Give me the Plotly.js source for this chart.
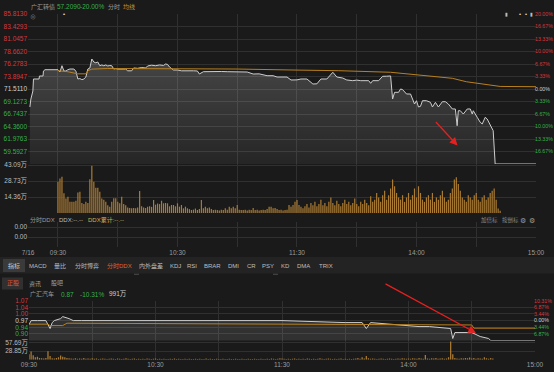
<!DOCTYPE html>
<html><head><meta charset="utf-8">
<script src="https://cdn.plot.ly/plotly-3.0.1.min.js"></script>
<style>html,body{margin:0;padding:0;background:#1a1a1a;}#chart{width:554px;height:372px;}</style>
</head><body><div id="chart"></div>
<script>
// ===== DATA =====
// 广汇转债 intraday (minutes from 09:30, trading time; negatives = call auction)
const mainTimes = [-14.1,-13.6,-12.6,-12.3,-9.5,-9.3,-7.5,-7.3,-6.5,
 0,1,2,3,4,5,6,8,9,10,11,12,13,14,15,16,17,18,19,20,21,22,23,24,25,26,27,28,29,30,32,34,35,37,38,40,42,44,45,47,49,51,53,54,55,56,58,60,62,65,68,70,71,73,76,79,82,85,88,91,95,98,101,105,108,110,113,115,117,120,122,125,128,130,132,135,138,140,143,145,148,150,152,154,156,157,158,161,163,165,166.5,167,168,169,171,172,173,175,177,178,179,180,181,182,183,185,187,188,189.5,191,193,194.5,196,198,199.5,200.4,201,202,203.5,205.5,207,208,208.5,210.5,212,213,214.5,215.5,217,218.5,219.5,221,240];
const mainPrices = [68.08,69.60,71.13,73.42,73.42,73.99,73.99,74.94,75.19,
 75.19,74.75,75.95,74.94,74.94,75.20,75.32,75.32,74.90,73.42,73.50,73.30,73.42,73.80,75.32,75.50,77.23,76.66,76.50,76.66,75.95,76.10,75.95,76.10,75.90,76.00,75.95,75.32,75.40,75.32,75.25,75.32,74.98,74.98,75.52,75.45,75.60,75.52,75.90,76.05,75.95,76.10,76.00,76.28,76.20,75.70,75.13,75.13,74.98,75.05,74.98,74.95,74.37,74.81,74.85,74.75,74.85,74.81,74.75,74.70,74.75,74.37,74.40,74.05,74.05,73.80,73.85,73.80,73.23,73.25,73.42,73.42,72.46,72.50,73.42,73.42,74.70,73.80,73.60,73.23,73.10,73.20,73.10,73.15,73.10,72.60,73.10,73.10,73.93,73.95,74.05,74.00,69.60,70.88,70.88,71.51,71.40,70.56,70.56,69.60,68.65,69.28,68.08,68.20,69.28,69.28,68.97,68.08,68.97,68.08,69.09,69.09,68.65,67.70,67.70,64.51,67.37,67.37,66.74,67.70,67.70,66.74,67.37,66.11,65.16,64.84,66.11,65.79,64.51,63.56,57.209,57.209,57.209];
const avgTimes  = [0,5,10,14,15,17,25,90,118,141,167,183,198,205,214,222,240];
const avgPrices = [75.00,74.80,74.40,74.40,75.00,75.30,75.42,75.32,75.13,75.00,74.70,74.05,73.55,72.90,72.40,72.00,71.95];
// volume per minute (万)
const volumes = [28,31,32.6,17.7,13,14.5,10,10,10,11, 18.3,19.1,9,8,10,9,30.2,42.5,28.1,22.7,
 22.7,19.1,13,12,10,7,5.7,10,13.2,13.2, 10,8.7,14.7,8,7,5,4.5,4.2,4.5,4.2,
 5,19.8,6,5,4.5,5.7,6,5.5,11.7,7.5, 8.5,8,11,8.7,9,8.7,6,7.2,7.2,6,
 8.7,5.7,7.2,4.2,5.7,4.2,3.5,2.7,3,4, 2.7,3.5,11.7,4.2,5.7,4.2,5,3.5,2.7,3,
 2.7,2.2,3,2.7,4.2,3,5.7,4.2,5.7,4.2, 7.2,3,2.7,2.7,3,2.2,3,2.7,4.5,2.7,
 3,2.2,2.7,3,2.7,3.5,5.7,5.7,4.2,4.5, 3.5,2.7,3,2.2,2.7,3,7.2,5.7,7.2,10,
 11.7,7.2,5.7,4.2,6,8,5,9,7,10, 6,8,12,7,9,6,10,14,9,7,
 11,8,6,9,12,8,10,7,9,13, 8,6,10,8,12,9,7,15,10,12,
 18,14,10,16,20,12,16,22,30,24, 18,14,12,16,10,14,18,12,16,22,
 14,24,18,12,10,14,16,12,18,10, 14,12,16,20,14,10,12,18,22,30,
 32,26,20,14,12,10,16,14,12,16, 18,12,10,14,16,12,14,18,20,22,
 12,4,2];
// 广汇汽车 intraday
const bTimes  = [0,1,4,8,9,10,11,12,15,16,19,21,25,40,60,90,120,150,158,160,162,185,190,200,201,202,210,212,214,218,219,240];
const bPrices = [0.95,0.97,0.97,0.97,0.95,0.93,0.96,0.97,0.98,0.99,0.98,0.97,0.97,0.97,0.97,0.97,0.97,0.96,0.96,0.93,0.96,0.94,0.94,0.93,0.88,0.91,0.91,0.90,0.89,0.88,0.87,0.87];
const bAvgTimes  = [0,9,10,16,18,185,210,211,240];
const bAvgPrices = [0.952,0.952,0.945,0.945,0.957,0.950,0.948,0.932,0.932];
const bVolumes = [18,27,15,8,10,6,5,4,6,28,12,5,4,6,8,14,10,8,6,5,
 4,3,5,3,4,3,6,3,4,3,5,3,4,2,3,4,3,2,3,4,
 3,2,4,3,2,3,5,3,2,3,4,2,3,2,3,2,4,3,2,3,
 4,2,3,2,3,2,2,3,2,4,2,3,2,2,3,2,3,2,2,3,
 2,3,2,2,4,2,3,2,2,3,2,2,3,2,2,3,2,2,3,2,
 2,3,2,2,3,2,2,3,2,2,3,2,2,3,2,4,3,2,3,5,
 4,3,2,3,2,3,4,2,3,2,3,2,4,3,2,3,2,3,5,3,
 2,3,4,3,2,3,2,3,4,2,3,2,3,2,3,4,6,3,8,4,
 12,5,3,4,3,2,3,4,3,2,3,4,3,2,3,4,3,5,4,3,
 4,3,5,4,3,6,4,3,16,4,3,5,4,6,3,4,5,3,4,8,
 60,18,6,4,3,5,4,6,5,7,4,6,3,5,4,3,8,5,3,6,4];
// tick labels
const priceTicks = [85.8130,83.4293,81.0457,78.6620,76.2783,73.8947,71.5110,69.1273,66.7437,64.3600,61.9763,59.5927,57.2090];
const pctLabels  = ['20.00%','16.67%','13.33%','10.00%','6.67%','3.33%','0.00%','3.33%','6.67%','10.00%','13.33%','16.67%',''];
const volTicks = [14.36,28.73,43.09];
const bPriceTicks = [1.07,1.0367,1.0033,0.97,0.9367,0.9033,0.87];
const bPriceLabels = ['1.07','1.04','1.00','0.97','0.94','0.90',''];
const bPctLabels = ['10.31%','6.87%','3.44%','0.00%','3.44%','6.87%',''];
const bVolTicks = [28.85,57.69];
const timeTicks = [0,30,60,90,120,150,180,210,240];
const timeLabels = ['09:30','','10:30','','11:30','','14:00','','15:00'];
const tabs = ['指标','MACD','量比','分时博弈','分时DDX','内外盘差','KDJ','RSI','BRAR','DMI','CR','PSY','KD','DMA','TRIX'];

// ===== STYLE =====
const W=554,H=372;
const px=x=>x/W, py=y=>1-y/H;
const FONT="Arial, 'Liberation Sans', 'Noto Sans CJK SC', sans-serif";
const RED='#d8383e', GREEN='#35b04a', WHITE='#d2d2d2', GRAY='#9c9c9c', GRID='#303030', BG='#1a1a1a', AVG='#b8801f', VOL='#ab7b33';
const colorFor=(i,mid)=> i<mid?RED:(i===mid?WHITE:GREEN);
const span=(t,c)=>t===''?'':`<span style="color:${c}">${t}</span>`;

const tf={size:6.5,family:FONT,color:GRAY};
const rtf={size:5.3,family:FONT,color:GRAY};
const traces=[
 {x:mainTimes,y:mainPrices,xaxis:'x',yaxis:'y',mode:'lines',line:{color:'#cdcdcd',width:1},
  fill:'tozeroy',fillcolor:'rgba(255,255,255,0.12)',
  fillgradient:{type:'vertical',start:57.2,stop:77.3,colorscale:[[0,'rgba(255,255,255,0.05)'],[1,'rgba(255,255,255,0.19)']]},hoverinfo:'skip'},
 {x:avgTimes,y:avgPrices,xaxis:'x',yaxis:'y',mode:'lines',line:{color:AVG,width:1},hoverinfo:'skip'},
 {x:[0],y:[71.511],xaxis:'x',yaxis:'y2',mode:'markers',marker:{opacity:0},hoverinfo:'skip'},
 {x:volumes.map((v,i)=>i),y:volumes,xaxis:'x',yaxis:'y3',type:'bar',marker:{color:VOL,line:{width:0}},width:0.6,hoverinfo:'skip'},
 {x:[0],y:[0.5],xaxis:'x',yaxis:'y4',mode:'markers',marker:{opacity:0},hoverinfo:'skip'},
 {x:bTimes,y:bPrices,xaxis:'x2',yaxis:'y5',mode:'lines',line:{color:'#cdcdcd',width:1},
  fill:'tozeroy',fillcolor:'rgba(255,255,255,0.10)',hoverinfo:'skip'},
 {x:bAvgTimes,y:bAvgPrices,xaxis:'x2',yaxis:'y5',mode:'lines',line:{color:AVG,width:1},hoverinfo:'skip'},
 {x:[0],y:[0.97],xaxis:'x2',yaxis:'y6',mode:'markers',marker:{opacity:0},hoverinfo:'skip'},
 {x:bVolumes.map((v,i)=>i),y:bVolumes,xaxis:'x2',yaxis:'y7',type:'bar',marker:{color:VOL,line:{width:0}},width:0.6,hoverinfo:'skip'}
];

const yCommon={showgrid:true,gridcolor:GRID,gridwidth:1,zeroline:false,showline:false,ticks:'',tickfont:tf,fixedrange:true,tickmode:'array'};
const layout={
 width:W,height:H,margin:{l:0,r:0,t:0,b:0},paper_bgcolor:BG,plot_bgcolor:BG,showlegend:false,
 font:{family:FONT,color:GRAY,size:6.5},bargap:0.3,
 xaxis:{domain:[px(28.1),px(536)],range:[-15,240],anchor:'y4',tickmode:'array',tickvals:[-15].concat(timeTicks),ticktext:['7/16'].concat(timeLabels),
   showgrid:true,gridcolor:GRID,zeroline:false,showline:false,ticks:'',tickfont:tf,fixedrange:true},
 yaxis:Object.assign({},yCommon,{domain:[py(164),py(14)],range:[57.209,85.813],anchor:'x',side:'left',tickvals:priceTicks,
   ticktext:priceTicks.map((v,i)=>i===12?'':span(v.toFixed(4),colorFor(i,6)))}),
 yaxis2:Object.assign({},yCommon,{overlaying:'y',anchor:'x',side:'right',range:[57.209,85.813],showgrid:false,tickvals:priceTicks,tickfont:rtf,ticklabelstandoff:-2,
   ticktext:pctLabels.map((t,i)=>span(t,colorFor(i,6)))}),
 yaxis3:Object.assign({},yCommon,{domain:[py(213),py(164)],range:[0,44.0],anchor:'x',tickvals:volTicks,ticktext:volTicks.map(v=>v.toFixed(2)+'万'),tickfont:{size:6.5,family:FONT,color:'#bdbdbd'}}),
 yaxis4:Object.assign({},yCommon,{domain:[py(247),py(222)],range:[0,1],anchor:'x',tickvals:[0.8,0.4],ticktext:['0.00','0.00'],tickfont:{size:6.5,family:FONT,color:'#bdbdbd'}}),
 xaxis2:{domain:[px(29),px(535)],range:[0,240],anchor:'y7',tickmode:'array',tickvals:timeTicks,ticktext:timeLabels,
   showgrid:true,gridcolor:GRID,zeroline:false,showline:false,ticks:'',tickfont:tf,fixedrange:true},
 yaxis5:Object.assign({},yCommon,{domain:[py(340.5),py(300.7)],range:[0.87,1.07],anchor:'x2',tickvals:bPriceTicks,
   ticktext:bPriceLabels.map((t,i)=>span(t,colorFor(i,3)))}),
 yaxis6:Object.assign({},yCommon,{overlaying:'y5',anchor:'x2',side:'right',range:[0.87,1.07],showgrid:false,tickvals:bPriceTicks,tickfont:rtf,ticklabelstandoff:-2,
   ticktext:bPctLabels.map((t,i)=>span(t,colorFor(i,3)))}),
 yaxis7:Object.assign({},yCommon,{domain:[py(359.7),py(340.5)],range:[0,63.7],anchor:'x2',tickvals:bVolTicks,ticktext:bVolTicks.map(v=>v.toFixed(2)+'万'),tickfont:{size:6.5,family:FONT,color:'#bdbdbd'}}),
 shapes:[],annotations:[]
};
const rect=(x0,y0,x1,y1,fill)=>({type:'rect',xref:'paper',yref:'paper',x0:px(x0),x1:px(x1),y0:py(y1),y1:py(y0),fillcolor:fill,line:{width:0},layer:'below'});
layout.shapes.push(rect(0,257,554,273.5,'#232323'));
layout.shapes.push(rect(3,259,25,272,'#3a3a3a'));
layout.shapes.push(rect(2,277.5,23,289.5,'#303030'));
layout.shapes.push(rect(134,273.8,139,274.6,'#5a5a5a'));
layout.shapes.push(rect(273,273.8,278,274.6,'#5a5a5a'));

const T=(x,y,text,color,size,anchor)=>({xref:'paper',yref:'paper',x:px(x),y:py(y),text:text,showarrow:false,
  font:{color:color,size:size||6,family:FONT},xanchor:anchor||'left',yanchor:'middle',borderpad:0});
const A=layout.annotations;
A.push(T(30,7,'广汇转债',GRAY,6));
A.push(T(56,7,'57.2090',GREEN,6.5));
A.push(T(79,7,'-20.00%',GREEN,6.5));
A.push(T(107,7,'分时',GRAY,6));
A.push(T(122,7,'均线','#c8962e',6));
A.push(T(33,17,'⊗','#777',6,'center'));
A.push(T(64,14,'•','#e0e0e0',6,'center'));
A.push(T(506,14,'▮','#bbb',5,'center'));
A.push(T(520,14,'•','#ddd',6,'center'));
A.push(T(526,14,'•','#ddd',6,'center'));
A.push(T(531,14,'▮','#bbb',5,'center'));
A.push(T(29,219.5,'分时DDX',GRAY,6));
A.push(T(58,219.5,'DDX:--.--','#bdbdbd',6));
A.push(T(87,219.5,'DDX累计:--.--','#d4b24a',6));
A.push(T(480,220,'加倍标','#8a8a8a',5.5));
A.push(T(501,220,'按倒标','#8a8a8a',5.5));
A.push(T(523,220,'⚙','#9a9a9a',7,'center'));
A.push(T(532,220,'⚙','#9a9a9a',7,'center'));
const tabX=[14,38,60,86.5,119,150.5,175,192,212.5,233,251,268,285.5,303.5,325.5];
tabs.forEach((t,i)=>A.push(T(tabX[i],265.5,t,i===4?'#e4602c':(i===0?'#cfcfcf':'#bdbdbd'),6,'center')));
A.push(T(12.5,283.5,'正股','#e4502c',6,'center'));
A.push(T(35,283.5,'资讯','#a0a0a0',6,'center'));
A.push(T(57,283.5,'股吧','#a0a0a0',6,'center'));
A.push(T(29,294,'广汇汽车',GRAY,6));
A.push(T(60,294,'0.87',GREEN,6.5));
A.push(T(79,294,'-10.31%',GREEN,6.5));
A.push(T(108,294,'991万','#cfcfcf',6.5));
// red arrows
A.push({xref:'paper',yref:'paper',x:px(457.5),y:py(145.5),ax:-23,ay:-25,text:'',showarrow:true,arrowhead:2,arrowsize:1.2,arrowwidth:1.3,arrowcolor:'#e52020'});
A.push({xref:'paper',yref:'paper',x:px(476),y:py(333),ax:-92,ay:-50,text:'',showarrow:true,arrowhead:2,arrowsize:1.2,arrowwidth:1.3,arrowcolor:'#e52020'});

Plotly.newPlot('chart',traces,layout,{staticPlot:true,displayModeBar:false});
</script></body></html>
